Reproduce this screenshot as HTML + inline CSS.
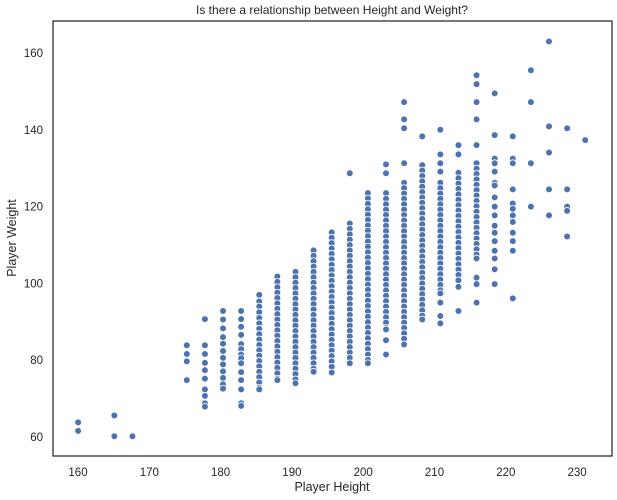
<!DOCTYPE html>
<html><head><meta charset="utf-8"><style>
html,body{margin:0;padding:0;background:#fff;}
svg{display:block;font-family:"Liberation Sans",Arial,sans-serif;}
</style></head><body>
<svg id="chart" width="617" height="500" viewBox="0 0 617 500">
<text x="332" y="14" text-anchor="middle" font-size="12" fill="#262626">Is there a relationship between Height and Weight?</text>
<g id="xticks"></g>
<g id="yticks"></g>
<g id="points"></g>
<rect x="53" y="21" width="559" height="435" fill="none" stroke="#262626" stroke-width="1.25"/>
<text x="332" y="491" text-anchor="middle" font-size="12.5" fill="#262626">Player Height</text>
<text transform="translate(16,238) rotate(-90)" text-anchor="middle" font-size="12.5" fill="#262626">Player Weight</text>
</svg>
<script>
const xTickLabels = [160,170,180,190,200,210,220,230];
const yTickLabels = [60,80,100,120,140,160];
const heights = [160.02,165.1,167.64,175.26,177.8,180.34,182.88,185.42,187.96,190.5,193.04,195.58,198.12,200.66,203.2,205.74,208.28,210.82,213.36,215.9,218.44,220.98,223.52,226.06,228.6,231.14];
const weights = [
[63.8,61.6],
[65.6,60.2],
[60.2],
[83.9,81.6,79.7,74.8],
[90.7,83.9,81.6,79.3,77.4,75.2,72.4,70.7,68.8,67.9],
[92.8,90.6,88.3,86,84.3,82.4,80.6,78.9,77.1,75.4,73.7,72.6],
[92.8,90.7,88.7,86.6,84.2,82.9,81.5,80.5,79.2,76.9,74.8,72.4,68.8,68.1],
[97,95.3,94,92.5,91,89.6,88.2,86.8,85.4,84,82.6,81.2,79.8,78.4,77,75.6,74.2,72.8,72.4],
[101.8,100.4,99,97.6,96.2,94.8,93.4,92,90.6,89.2,87.8,86.4,85,83.6,82.2,80.8,79.4,78,76.6,75.2,74.8],
[103,101.6,100.2,98.8,97.4,96,94.6,93.2,91.8,90.4,89,87.6,86.2,84.8,83.4,82,80.6,79.2,77.8,76.4,75,74],
[108.6,107.2,105.8,104.4,103,101.6,100.2,98.8,97.4,96,94.6,93.2,91.8,90.4,89,87.6,86.2,84.8,83.4,82,80.6,79.2,77.8,77],
[113.3,111.9,110.5,109.1,107.7,106.3,104.9,103.5,102.1,100.7,99.3,97.9,96.5,95.1,93.7,92.3,90.9,89.5,88.1,86.7,85.3,83.9,82.5,81.1,79.7,78.3,76.8],
[128.7,115.6,114.2,112.8,111.4,110,108.6,107.2,105.8,104.4,103,101.6,100.2,98.8,97.4,96,94.6,93.2,91.8,90.4,89,87.6,86.2,84.8,83.4,82,80.6,79.2],
[123.5,122.1,120.7,119.3,117.9,116.5,115.1,113.7,112.3,110.9,109.5,108.1,106.7,105.3,103.9,102.5,101.1,99.7,98.3,96.9,95.5,94.1,92.7,91.3,89.9,88.5,87.1,85.7,84.3,82.9,81.5,80.1,79.2],
[131,128.7,123.5,122,120.6,119.2,117.8,116.4,115,113.6,112.2,110.8,109.4,108,106.6,105.2,103.8,102.4,101,99.6,98.2,96.8,95.4,94,92.6,91.2,89.8,88.4,88,85.2,81.5],
[147.2,142.7,140.4,131.3,126.2,124.8,123.4,122,120.6,119.2,117.8,116.4,115,113.6,112.2,110.8,109.4,108,106.6,105.2,103.8,102.4,101,99.6,98.2,96.8,95.4,94,92.6,91.2,89.8,88.4,87,85.6,84.1],
[138.3,130.8,129.4,128,126.6,125.2,123.8,122.4,121,119.6,118.2,116.8,115.4,114,112.6,111.2,109.8,108.4,107,105.6,104.2,102.8,101.4,100,98.6,97.2,95.8,94.4,93,91.6,90.6],
[140,133.6,131.3,129.1,126.2,124.8,123.4,122,120.6,119.2,117.8,116.4,115,113.6,112.2,110.8,109.4,108,106.6,105.2,103.8,102.4,101,99.6,98.2,97.4,95,91.5,89.6],
[136,133.6,128.8,127.4,126,124.6,123.2,121.8,120.4,119,117.6,116.2,114.8,113.4,112,110.6,109.2,107.8,106.4,105,103.6,102.2,100.8,99.1,92.8],
[154.2,151.9,147.2,142.7,136,131.3,129.9,128.5,127.1,125.7,124.3,122.9,121.5,120.1,118.7,117.3,115.9,114.5,113.1,111.7,110.3,108.9,107.5,106.5,101.5,99.8,95],
[149.5,138.6,132.5,131.3,129.1,126.2,125.5,122.4,120,117.7,115,113.2,111,108.5,106.5,103.7,99.8],
[138.3,132.5,131.3,124.5,120.8,119.4,117.7,116,113.2,111,108.5,96.1],
[155.5,147.2,131.3,120],
[163,140.9,134.1,124.5,117.7],
[140.4,124.5,120,118.9,112.2],
[137.3]
];
const NS='http://www.w3.org/2000/svg';
function xScale(h){return 78+(h-160)*7.13;}
function yScale(w){return 437-(w-60)*3.84;}
const gx=document.getElementById('xticks'), gy=document.getElementById('yticks'), gp=document.getElementById('points');
xTickLabels.forEach(v=>{
  const t=document.createElementNS(NS,'text');
  t.setAttribute('x',xScale(v));t.setAttribute('y',476);
  t.setAttribute('text-anchor','middle');t.setAttribute('font-size','11.5');t.setAttribute('fill','#262626');
  t.textContent=v;
  
  
  gx.appendChild(t);
});
yTickLabels.forEach(v=>{
  const t=document.createElementNS(NS,'text');
  t.setAttribute('x',43);t.setAttribute('y',yScale(v)+4);
  t.setAttribute('text-anchor','end');t.setAttribute('font-size','11.5');t.setAttribute('fill','#262626');
  t.textContent=v;
  
  
  gy.appendChild(t);
});
heights.forEach((h,i)=>{
  weights[i].forEach(w=>{
    const c=document.createElementNS(NS,'circle');
    c.setAttribute('cx',xScale(h));c.setAttribute('cy',yScale(w));c.setAttribute('r',3.4);
    c.setAttribute('fill','#4c72b0');c.setAttribute('stroke','#fff');c.setAttribute('stroke-width','0.8');
    
    
    gp.appendChild(c);
  });
});
</script>
</body></html>
